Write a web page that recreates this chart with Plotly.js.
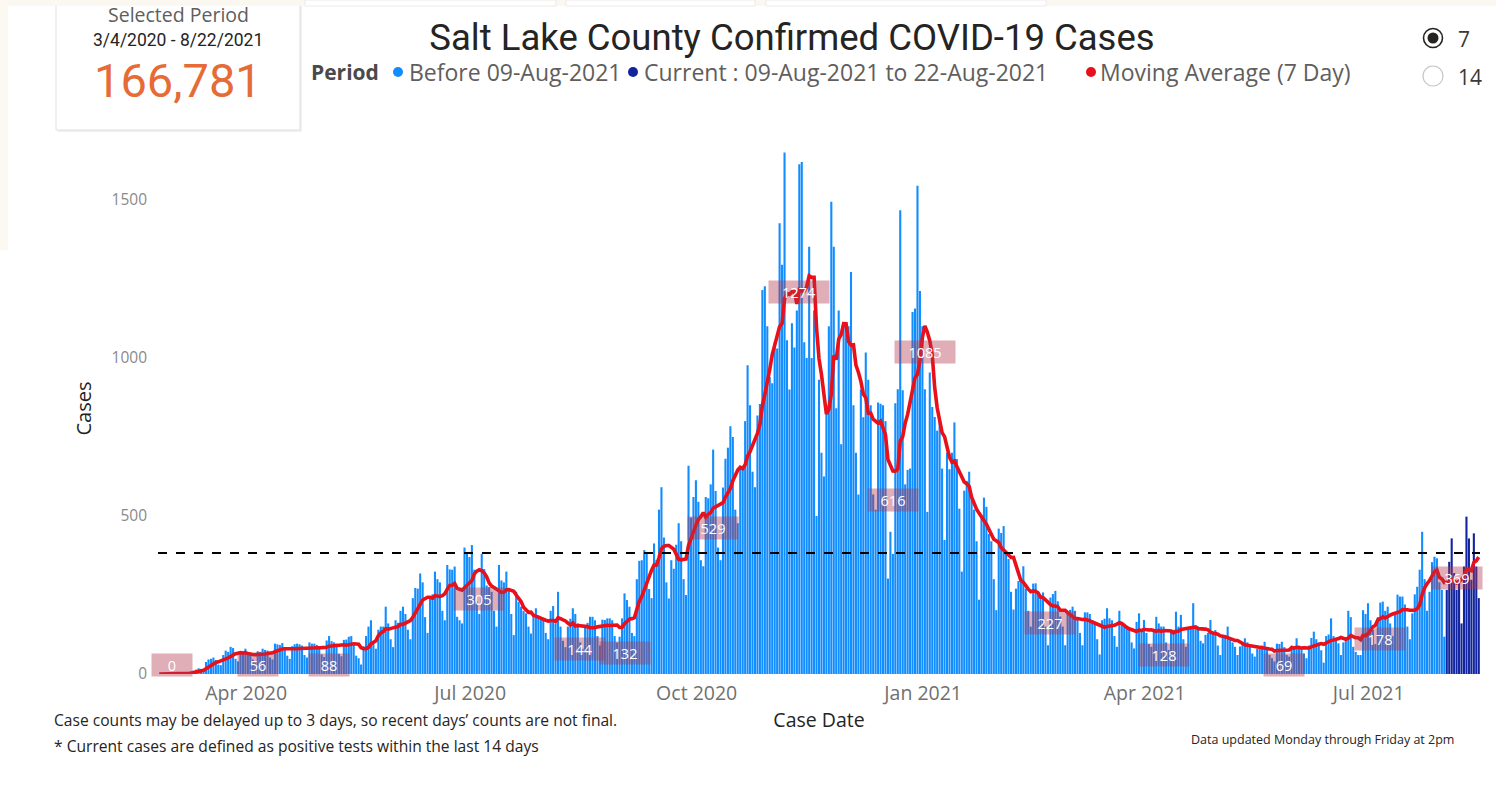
<!DOCTYPE html>
<html>
<head>
<meta charset="utf-8">
<script src="https://cdn.plot.ly/plotly-3.0.1.min.js"></script>
<style>
html,body{margin:0;padding:0;background:#ffffff;}
#chart{width:1496px;height:793px;}
</style>
</head>
<body>
<div id="chart"></div>
<script>
// ---------------- DATA ----------------
const startDate = '2020-03-04';
const currentStart = '2021-08-09';
const periodText = '3/4/2020 - 8/22/2021';
const totalCases = '166,781';
const threshold = 383;

// daily confirmed cases, one row per week (Wed..Tue)
const dailyCases = [
  0,0,0,0,1,0,1,
  1,2,2,1,3,5,7,
  10,14,18,16,12,38,46,
  48,52,44,30,28,60,74,
  70,86,82,48,40,72,64,
  80,66,64,46,36,72,70,
  80,76,74,52,46,96,94,
  92,98,82,58,48,88,94,
  96,94,90,60,52,100,96,
  96,92,86,62,54,106,120,
  104,100,96,64,56,108,109,
  118,120,96,58,50,30,88,
  120,150,170,100,80,140,150,
  150,213,160,110,85,170,162,
  200,213,190,140,110,240,272,
  270,318,290,180,130,240,252,
  324,300,290,200,170,345,331,
  330,340,181,170,160,400,380,
  370,408,330,230,190,380,332,
  280,275,260,200,150,345,296,
  290,324,265,190,123,260,228,
  213,200,192,150,128,190,208,
  185,180,170,130,110,200,215,
  160,260,150,105,85,150,175,
  208,190,160,100,80,150,162,
  181,181,170,120,90,172,171,
  176,176,170,120,100,118,176,
  255,234,213,130,120,300,358,
  360,392,380,269,240,413,361,
  520,591,432,290,239,360,333,
  409,477,420,300,250,659,495,
  560,613,545,360,341,560,556,
  600,710,579,400,360,590,681,
  716,784,750,520,477,650,653,
  800,977,850,640,591,818,854,
  1215,1227,1100,940,920,1050,1030,
  1426,1295,1650,1056,900,1110,1033,
  1150,1613,1620,1050,1000,1352,1000,
  1150,500,931,700,625,852,1100,
  1494,1352,841,1150,727,1096,1097,
  1100,1272,850,700,568,900,812,
  1017,931,850,568,520,859,855,
  850,800,302,450,380,857,901,
  1467,898,600,646,650,1145,1156,
  1545,1212,1100,901,513,954,845,
  813,770,800,650,424,700,648,
  700,796,680,523,324,580,611,
  640,557,520,420,235,500,558,
  529,443,420,300,202,460,446,
  468,380,364,260,204,270,294,
  300,341,270,200,150,286,287,
  261,250,258,150,91,242,253,
  263,230,182,150,91,190,203,
  213,200,180,130,91,195,195,
  190,170,159,110,62,170,175,
  208,176,170,120,86,200,160,
  150,145,140,100,81,165,192,
  140,171,130,95,86,142,181,
  160,150,150,100,76,134,140,
  197,150,187,110,86,141,144,
  224,150,150,105,97,124,130,
  171,130,139,90,60,120,116,
  150,110,100,86,60,87,93,
  113,100,90,65,55,80,85,
  90,102,80,60,50,40,96,
  95,102,85,60,55,90,87,
  113,90,80,65,50,90,114,
  134,110,100,75,36,120,125,
  176,120,110,97,60,100,107,
  200,180,86,70,60,60,202,
  190,224,170,140,95,180,226,
  229,200,213,160,120,192,251,
  245,245,220,150,110,192,252,
  276,330,450,300,200,260,354,
  371,366,290,266,118,266,355,
  429,319,266,298,160,340,498,
  429,298,445,340,240
];

const tickDates  = ['2020-04-01','2020-07-01','2020-10-01','2021-01-01','2021-04-01','2021-07-01'];
const tickLabels = ['Apr 2020','Jul 2020','Oct 2020','Jan 2021','Apr 2021','Jul 2021'];
const yTicks = [0, 500, 1000, 1500];

// data labels shown on the moving-average line
const labelDates  = ['2020-03-09','2020-04-13','2020-05-12','2020-07-12','2020-08-22','2020-09-09','2020-10-15','2020-11-19','2020-12-27','2021-01-09','2021-03-01','2021-04-16','2021-06-04','2021-07-13','2021-08-22'];
const labelValues = [0,56,88,305,144,132,529,1274,616,1085,227,128,69,178,369];

// ---------------- BUILD ----------------
const [sy, sm, sd] = startDate.split('-').map(Number);
const dates = dailyCases.map((_, i) => new Date(Date.UTC(sy, sm - 1, sd + i)).toISOString().slice(0, 10));
const movingAvg = dailyCases.map((_, i) => {
  const from = Math.max(0, i - 6);
  const win = dailyCases.slice(from, i + 1);
  return win.reduce((a, b) => a + b, 0) / win.length;
});
const beforeX = [], beforeY = [], curX = [], curY = [];
dates.forEach((d, i) => {
  if (d < currentStart) { beforeX.push(d); beforeY.push(dailyCases[i]); }
  else { curX.push(d); curY.push(dailyCases[i]); }
});

// layout geometry (pixels)
const W = 1496, H = 793;
const PL = 158, PR = 1480, PT = 143, PB = 674;
const yMax = 1680;
const px = v => (v - PL) / (PR - PL);
const py = v => (PB - v) / (PB - PT);
const pxPerUnit = (PB - PT) / yMax;

const F = 'Open Sans, Noto Sans, sans-serif';

const traces = [
  { type: 'bar', x: beforeX, y: beforeY, name: 'Before 09-Aug-2021',
    marker: { color: '#118DFF', line: { width: 0 } }, hoverinfo: 'x+y' },
  { type: 'bar', x: curX, y: curY, name: 'Current : 09-Aug-2021 to 22-Aug-2021',
    marker: { color: '#12239E', line: { width: 0 } }, hoverinfo: 'x+y' },
  { type: 'scatter', mode: 'lines', x: dates, y: movingAvg, name: 'Moving Average (7 Day)',
    line: { color: '#E8101A', width: 3.6 }, hoverinfo: 'x+y' }
];

const annotations = [];
const shapes = [];

// MA data labels
labelDates.forEach((d, i) => {
  const v = labelValues[i];
  let shift = -21;
  if (v * pxPerUnit + shift < 9) shift = 9 - v * pxPerUnit;
  const txt = String(v);
  const isLast = i === labelDates.length - 1;
  annotations.push({
    x: d, y: v, xref: 'x', yref: 'y', text: txt, showarrow: false,
    yshift: shift, xanchor: isLast ? 'right' : 'center', xshift: isLast ? 4 : 0,
    font: { family: F, size: 14.5, color: '#ffffff' },
    bgcolor: 'rgba(178,52,72,0.40)', borderpad: 1,
    width: txt.length <= 2 ? 38 : (txt.length === 3 ? 48 : 58), height: 20
  });
});

// card
shapes.push({ type: 'rect', xref: 'paper', yref: 'paper', x0: px(58), x1: px(302), y0: py(132), y1: py(6),
  line: { width: 0 }, fillcolor: 'rgba(0,0,0,0.06)', layer: 'below' });
shapes.push({ type: 'rect', xref: 'paper', yref: 'paper', x0: px(56), x1: px(300), y0: py(130), y1: py(4),
  line: { width: 1, color: '#E1DFDD' }, fillcolor: '#ffffff', layer: 'below' });
// faint top band + tiles
shapes.push({ type: 'rect', xref: 'paper', yref: 'paper', x0: px(0), x1: px(1496), y0: py(6), y1: py(0),
  line: { width: 0 }, fillcolor: '#FBF7F1', layer: 'below' });
shapes.push({ type: 'rect', xref: 'paper', yref: 'paper', x0: px(0), x1: px(8), y0: py(250), y1: py(0),
  line: { width: 0 }, fillcolor: '#FCF8F2', layer: 'below' });
[[305, 556], [566, 755], [766, 1046]].forEach(([a, b]) => {
  shapes.push({ type: 'rect', xref: 'paper', yref: 'paper', x0: px(a), x1: px(b), y0: py(6), y1: py(0),
    line: { width: 1, color: '#EDEBE9' }, fillcolor: '#ffffff', layer: 'below' });
});

annotations.push({ xref: 'paper', yref: 'paper', x: px(178), y: py(15), text: 'Selected Period', showarrow: false,
  xanchor: 'center', yanchor: 'middle', font: { family: F, size: 19.5, color: '#605E5C' } });
annotations.push({ xref: 'paper', yref: 'paper', x: px(178), y: py(40), text: periodText, showarrow: false,
  xanchor: 'center', yanchor: 'middle', font: { family: 'Roboto, sans-serif', size: 17.5, color: '#252423' } });
annotations.push({ xref: 'paper', yref: 'paper', x: px(178), y: py(80), text: totalCases, showarrow: false,
  xanchor: 'center', yanchor: 'middle', font: { family: 'Roboto, sans-serif', size: 47, color: '#E66C37' } });

// legend row
annotations.push({ xref: 'paper', yref: 'paper', x: px(309), y: py(72), text: '<b>Period</b>', showarrow: false,
  xanchor: 'left', yanchor: 'middle', font: { family: F, size: 21, color: '#4A4A4A' } });
const legendItems = [
  { cx: 398, tx: 407, color: '#118DFF', text: 'Before 09-Aug-2021' },
  { cx: 633, tx: 642, color: '#12239E', text: 'Current : 09-Aug-2021 to 22-Aug-2021' },
  { cx: 1091, tx: 1098, color: '#E8101A', text: 'Moving Average (7 Day)' }
];
legendItems.forEach(it => {
  const r = 5;
  shapes.push({ type: 'circle', xref: 'paper', yref: 'paper', x0: px(it.cx - r), x1: px(it.cx + r),
    y0: py(72 + r), y1: py(72 - r), line: { width: 0 }, fillcolor: it.color });
  annotations.push({ xref: 'paper', yref: 'paper', x: px(it.tx), y: py(72), text: it.text, showarrow: false,
    xanchor: 'left', yanchor: 'middle', font: { family: F, size: 23, color: '#605E5C' } });
});

// radio buttons
shapes.push({ type: 'circle', xref: 'paper', yref: 'paper', x0: px(1423.5), x1: px(1442.5), y0: py(47.5), y1: py(28.5),
  line: { width: 1.6, color: '#252423' }, fillcolor: '#ffffff' });
shapes.push({ type: 'circle', xref: 'paper', yref: 'paper', x0: px(1427.5), x1: px(1438.5), y0: py(43.5), y1: py(32.5),
  line: { width: 0 }, fillcolor: '#252423' });
shapes.push({ type: 'circle', xref: 'paper', yref: 'paper', x0: px(1423), x1: px(1443), y0: py(86), y1: py(66),
  line: { width: 1.2, color: '#C8C6C4' }, fillcolor: '#ffffff' });
annotations.push({ xref: 'paper', yref: 'paper', x: px(1456), y: py(39), text: '7', showarrow: false,
  xanchor: 'left', yanchor: 'middle', font: { family: F, size: 21, color: '#3B3A39' } });
annotations.push({ xref: 'paper', yref: 'paper', x: px(1456), y: py(77), text: '14', showarrow: false,
  xanchor: 'left', yanchor: 'middle', font: { family: F, size: 21, color: '#3B3A39' } });

// footnotes
annotations.push({ xref: 'paper', yref: 'paper', x: px(52), y: py(720),
  text: 'Case counts may be delayed up to 3 days, so recent days\u2019 counts are not final.', showarrow: false,
  xanchor: 'left', yanchor: 'middle', font: { family: F, size: 15.6, color: '#252423' } });
annotations.push({ xref: 'paper', yref: 'paper', x: px(52), y: py(746),
  text: '* Current cases are defined as positive tests within the last 14 days', showarrow: false,
  xanchor: 'left', yanchor: 'middle', font: { family: F, size: 15.6, color: '#252423' } });
annotations.push({ xref: 'paper', yref: 'paper', x: px(1456), y: py(739),
  text: 'Data updated Monday through Friday at 2pm', showarrow: false,
  xanchor: 'right', yanchor: 'middle', font: { family: F, size: 12.5, color: '#252423' } });

// threshold dashed line
shapes.push({ type: 'line', xref: 'paper', yref: 'y', x0: 0, x1: 1, y0: threshold, y1: threshold,
  line: { color: '#000000', width: 2, dash: 'dash' }, layer: 'above' });

const layout = {
  width: W, height: H,
  paper_bgcolor: 'rgba(0,0,0,0)', plot_bgcolor: 'rgba(0,0,0,0)',
  margin: { l: PL, r: W - PR, t: PT, b: H - PB, autoexpand: false },
  showlegend: false,
  barmode: 'overlay', bargap: 0.15,
  title: { text: 'Salt Lake County Confirmed COVID-19 Cases', x: 792 / W, y: 1 - 37 / H,
    xref: 'container', yref: 'container', xanchor: 'center', yanchor: 'middle',
    font: { family: 'Roboto, sans-serif', size: 36.5, color: '#252423' } },
  xaxis: {
    type: 'date', range: ['2020-03-03 12:00', '2021-08-22 12:00'],
    tickmode: 'array', tickvals: tickDates, ticktext: tickLabels,
    showgrid: false, zeroline: false, showline: false, ticks: '',
    ticklabelstandoff: 5, ticklabelshift: 18,
    tickfont: { family: F, size: 19.5, color: '#707070' },
    title: { text: 'Case Date', standoff: 8, font: { family: F, size: 19.5, color: '#252423' } },
    automargin: false, fixedrange: true
  },
  yaxis: {
    range: [0, yMax], tickmode: 'array', tickvals: yTicks, ticktext: yTicks.map(String),
    showgrid: false, zeroline: false, showline: false, ticks: '',
    ticklabelstandoff: 10,
    tickfont: { family: F, size: 15.5, color: '#8A8A8A' },
    title: { text: 'Cases', standoff: 14, font: { family: F, size: 20, color: '#252423' } },
    automargin: false, fixedrange: true
  },
  annotations: annotations,
  shapes: shapes
};

Plotly.newPlot('chart', traces, layout, { displayModeBar: false, responsive: false });
</script>
</body>
</html>
